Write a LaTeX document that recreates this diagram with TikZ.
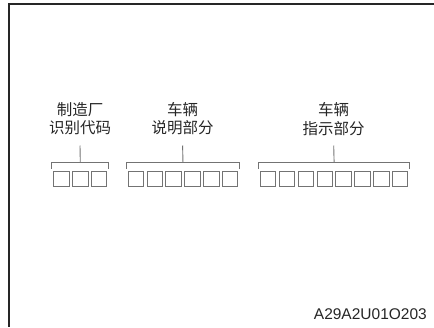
\documentclass[tikz,border=0pt]{standalone}
\usepackage{fontspec}
\usetikzlibrary{calc}
\newfontfamily\cjk{Noto Sans CJK SC}
\setmainfont{Liberation Sans}
\begin{document}
\begin{tikzpicture}[x=1pt,y=-1pt,
  cell/.style={draw=black!55, line width=0.9pt, minimum width=15.4pt, minimum height=15.2pt, inner sep=0pt, anchor=north west},
  brace/.style={draw=black!55, line width=0.9pt},
  lbl/.style={text=black!85, font=\cjk\fontsize{15.5}{18.2}\selectfont, align=center, inner sep=0pt},
  code/.style={text=black!85, font=\fontsize{15.5}{18}\selectfont, inner sep=0pt}]
\useasboundingbox (0,0) rectangle (434,327);
\draw[line width=1.8pt, draw=black!85] (434,3.8) -- (9,3.8) -- (9,327);
% cells
\foreach \i in {0,1,2} \node[cell] (a\i) at ({53.3+18.85*\i},170.6) {};
\foreach \i in {0,...,5} \node[cell] (b\i) at ({127.7+18.85*\i},170.6) {};
\foreach \i in {0,...,7} \node[cell] (c\i) at ({260+18.85*\i},170.6) {};
% brackets
\draw[brace] ([xshift=-1.5pt,yshift=2pt]a0.north west) |- ([yshift=7.8pt]$(a0.north west)!0.5!(a2.north east)$) coordinate (ma) -| ([xshift=1.5pt,yshift=2pt]a2.north east);
\draw[brace] ([xshift=-1.5pt,yshift=2pt]b0.north west) |- ([yshift=7.8pt]$(b0.north west)!0.5!(b5.north east)$) coordinate (mb) -| ([xshift=1.5pt,yshift=2pt]b5.north east);
\draw[brace] ([xshift=-1.5pt,yshift=2pt]c0.north west) |- ([yshift=7.8pt]$(c0.north west)!0.5!(c7.north east)$) coordinate (mc) -| ([xshift=1.5pt,yshift=2pt]c7.north east);
% labels
\node[lbl] (la) at (80,119) {制造厂\\识别代码};
\node[lbl] (lb) at (182.6,119) {车辆\\说明部分};
\node[lbl] (lc) at (333.7,119) {车辆\\指示部分};
\coordinate (ta) at (80,145.5);
\coordinate (tb) at (182.6,145.5);
\coordinate (tc) at (333.7,145.5);
\draw[brace] (ta) -- (ma);
\draw[brace] (tb) -- (mb);
\draw[brace] (tc) -- (mc);
\node[code, anchor=east] (code) at (427,314) {A29A2U01O203};
\end{tikzpicture}
\end{document}
